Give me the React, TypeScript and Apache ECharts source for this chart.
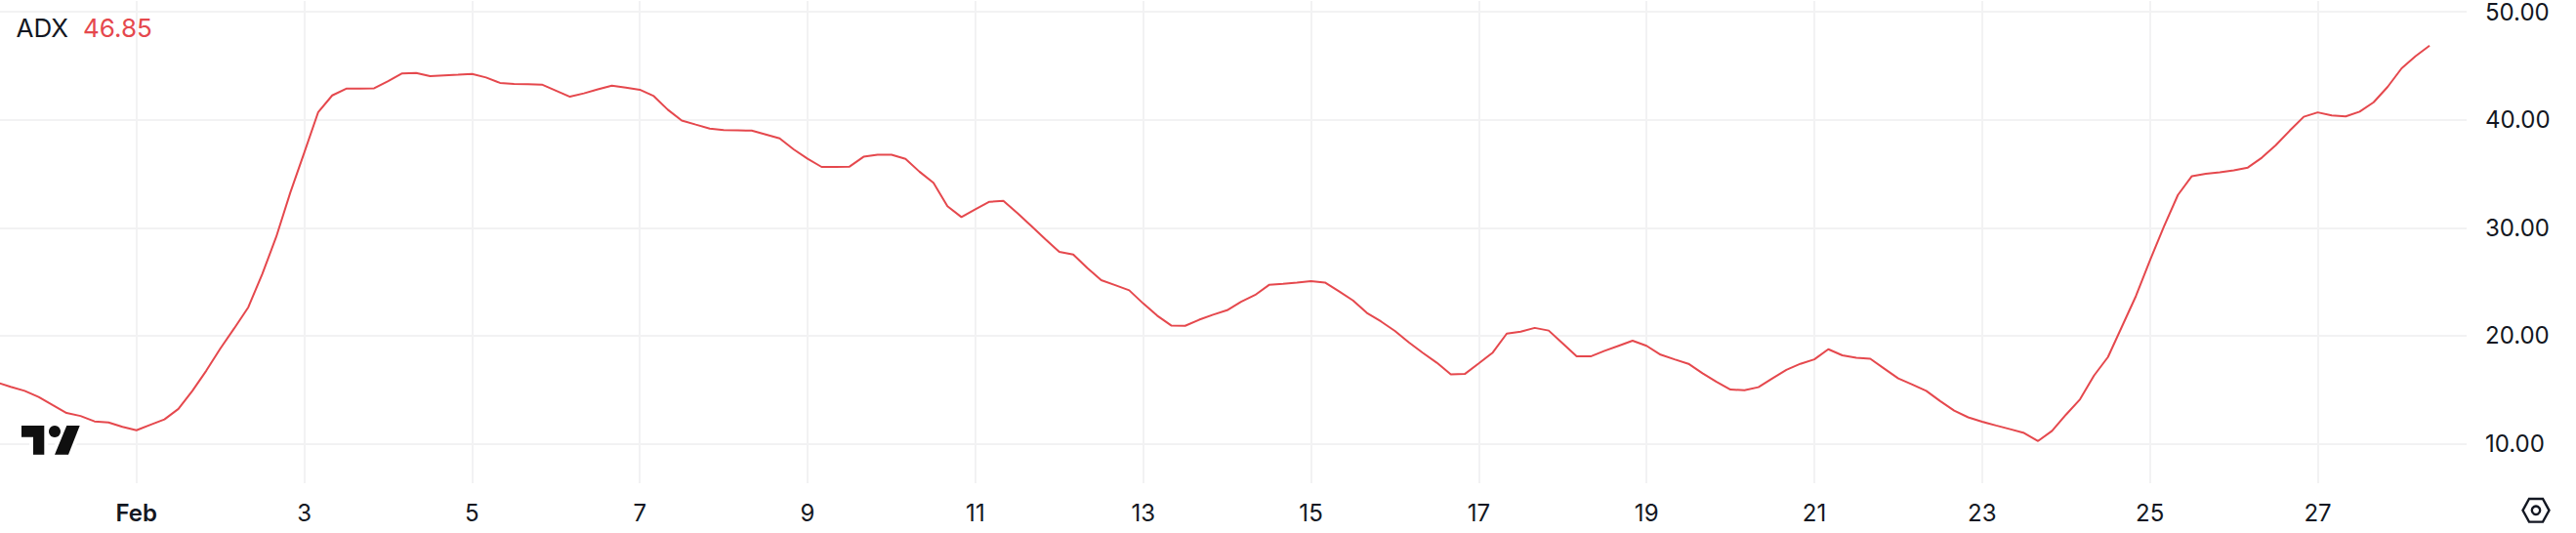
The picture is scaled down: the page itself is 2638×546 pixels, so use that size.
import React, { useEffect, useRef } from "react";
import * as echarts from "echarts";

const seriesName = "ADX";
const lastValue = "46.85";
const adxValues = [
  15.68, 15.27, 14.9, 14.33, 13.58, 12.85, 12.57, 12.07, 11.98, 11.57,
  11.25, 11.76, 12.26, 13.23, 14.9, 16.78, 18.82, 20.7, 22.64, 25.72, 29.17, 33.25,
  36.95, 40.71, 42.25, 42.88, 42.88, 42.91, 43.57, 44.29, 44.32, 44.04, 44.1, 44.16,
  44.23, 43.91, 43.41, 43.32, 43.29, 43.25, 42.69, 42.13, 42.44, 42.82, 43.16, 42.97,
  42.78, 42.19, 40.93, 39.93, 39.55, 39.18, 39.05, 39.02, 38.99, 38.64, 38.27, 37.26,
  36.38, 35.63, 35.63, 35.66, 36.57, 36.76, 36.76, 36.38, 35.19, 34.16, 31.99, 30.99,
  31.71, 32.4, 32.49, 31.36, 30.17, 28.95, 27.76, 27.51, 26.28, 25.15, 24.68, 24.21,
  22.99, 21.86, 20.95, 20.92, 21.48, 21.95, 22.36, 23.15, 23.77, 24.71, 24.81, 24.93,
  25.06, 24.93, 24.12, 23.27, 22.11, 21.33, 20.45, 19.38, 18.41, 17.5, 16.43, 16.46,
  17.44, 18.44, 20.2, 20.38, 20.73, 20.48, 19.29, 18.09, 18.09, 18.6, 19.07, 19.54,
  19.07, 18.25, 17.81, 17.4, 16.53, 15.74, 15.02, 14.96, 15.24, 16.05, 16.84, 17.4,
  17.81, 18.75, 18.19, 17.97, 17.87, 16.96, 16.05, 15.49, 14.9, 13.95, 13.07, 12.45,
  12.04, 11.69, 11.35, 11.0, 10.25, 11.19, 12.7, 14.11, 16.31, 18.03, 20.85, 23.68,
  26.97, 30.11, 33.03, 34.78, 35.0, 35.13, 35.32, 35.57, 36.48, 37.64, 38.99, 40.27,
  40.68, 40.4, 40.31, 40.75, 41.62, 43.04, 44.76, 45.89, 46.86,
];
// the series has one value per 4-hour bar; its 11th value falls on 1 Feb
const barsBeforeFeb = 10;
const barsPerDay = 6;
const dayTicks = ["Feb", "3", "5", "7", "9", "11", "13", "15", "17", "19", "21", "23", "25", "27"];
const yTicks = [10, 20, 30, 40, 50];

const FONT = "Inter";
const INK = "#131722";
const RED = "#E5484D";
const GRID = "#F2F2F3";

const xTickValues = dayTicks.map((_, i) => i * 2 * barsPerDay);

const logoT = [[22, 436], [45.3, 436], [45.3, 465.7], [34, 465.7], [34, 447.8], [22, 447.8]];
const logoSlash = [[68.3, 436], [81.7, 436], [70, 465.7], [56, 465.7]];
const hexagon = [[2583.5, 522.8], [2590, 511], [2604, 511], [2610.5, 522.8], [2604, 534.6], [2590, 534.6]];

export default function App() {
  const ref = useRef<HTMLDivElement>(null);
  useEffect(() => {
    document.body.style.margin = "0";
    const chart = echarts.init(ref.current!, undefined, { renderer: "svg" });
    const logoHalo = { fill: "#fff", stroke: "#fff", lineWidth: 8 };
    const logoInk = { fill: "#0F0F0F" };
    chart.setOption({
      animation: false,
      backgroundColor: "#fff",
      grid: { left: 0, top: 0, width: 2526, height: 495, containLabel: false },
      xAxis: {
        type: "value",
        min: -9.76,
        max: 166.65,
        axisLine: { show: false },
        axisTick: { show: false, customValues: xTickValues },
        splitLine: { show: true, lineStyle: { color: GRID, width: 2 } },
        axisLabel: {
          customValues: xTickValues,
          margin: 18,
          fontFamily: FONT,
          fontSize: 24,
          color: INK,
          formatter: (v: number) => {
            const label = dayTicks[Math.round(v / (2 * barsPerDay))];
            return label === "Feb" ? `{bold|${label}}` : label;
          },
          rich: { bold: { fontFamily: FONT, fontSize: 24, fontWeight: 600, color: INK } },
        },
      },
      yAxis: {
        type: "value",
        position: "right",
        min: 6.347,
        max: 50.992,
        axisLine: { show: false },
        axisTick: { show: false, customValues: yTicks },
        splitLine: { show: true, lineStyle: { color: GRID, width: 2 } },
        axisLabel: {
          customValues: yTicks,
          margin: 19,
          fontFamily: FONT,
          fontSize: 24,
          color: INK,
          formatter: (v: number) => v.toFixed(2),
        },
      },
      series: [
        {
          name: seriesName,
          type: "line",
          showSymbol: false,
          symbol: "none",
          smooth: false,
          lineStyle: { color: RED, width: 2 },
          data: adxValues.map((v, i) => [i - barsBeforeFeb, v]),
        },
      ],
      graphic: [
        { type: "polygon", z: 1, shape: { points: logoT }, style: logoHalo },
        { type: "polygon", z: 1, shape: { points: logoSlash }, style: logoHalo },
        { type: "circle", z: 1, shape: { cx: 56, cy: 442, r: 6 }, style: logoHalo },
        { type: "polygon", z: 1, shape: { points: logoT }, style: logoInk },
        { type: "polygon", z: 1, shape: { points: logoSlash }, style: logoInk },
        { type: "circle", z: 1, shape: { cx: 56, cy: 442, r: 6 }, style: logoInk },
        { type: "polygon", shape: { points: hexagon }, style: { fill: "none", stroke: INK, lineWidth: 2.4 } },
        { type: "circle", shape: { cx: 2597, cy: 522.8, r: 4.2 }, style: { fill: "none", stroke: INK, lineWidth: 2.4 } },
        {
          type: "text", x: 16.5, y: 28.5,
          style: { text: seriesName, fontFamily: FONT, fontSize: 26, fill: INK, verticalAlign: "middle", align: "left" },
        },
        {
          type: "text", x: 85, y: 28.5,
          style: { text: lastValue, fontFamily: FONT, fontSize: 26, fill: RED, verticalAlign: "middle", align: "left" },
        },
      ],
    });
    return () => chart.dispose();
  }, []);
  return <div ref={ref} style={{ width: 2638, height: 546 }} />;
}
